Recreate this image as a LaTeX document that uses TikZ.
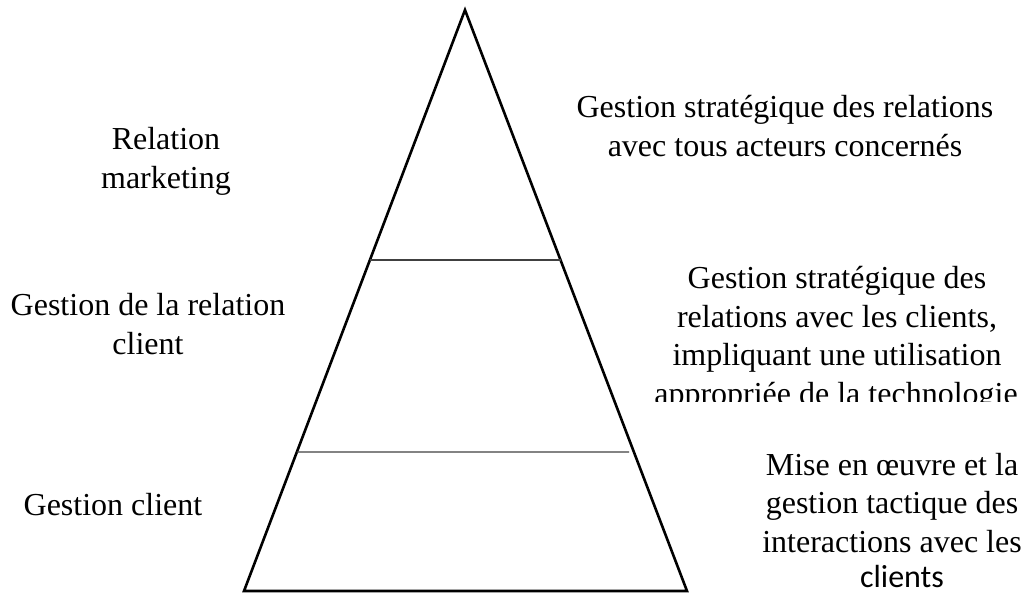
\documentclass[tikz,border=0pt]{standalone}
\usepackage{fontspec}
\setmainfont{Liberation Serif}
\newfontfamily\calibrifont{Carlito}
\usetikzlibrary{calc}
\begin{document}
\begin{tikzpicture}[x=1pt,y=-1pt,
  lbl/.style={anchor=base,inner sep=0pt,font=\fontsize{32}{38}\selectfont},
  pyr/.style={line width=2.6pt,line join=miter},
  tier/.style={line width=1.2pt,draw=black!75}]
\useasboundingbox (0,0) rectangle (1031,596);

% pyramid outline
\coordinate (apex) at (465,10);
\coordinate (bl) at (244,591);
\coordinate (br) at (687,591);
\draw[pyr] (apex) -- (br) -- (bl) -- cycle;

% tier separators
\coordinate (t1l) at ($(apex)!0.4303!(bl)$);
\coordinate (t1r) at ($(apex)!0.4303!(br)$);
\coordinate (t2l) at ($(apex)!0.7608!(bl)$);
\coordinate (t2r) at (629,452);
\draw[tier] (t1l) -- (t1r);
\draw[tier] (t2l) -- (t2r);

% left labels
\node[lbl] (rm1) at (166,150) {Relation};
\node[lbl] (rm2) at (166,189) {marketing};
\node[lbl] (grc1) at (148,315) {Gestion de la relation};
\node[lbl] (grc2) at (148,354) {client};
\node[lbl] (gc) at (113,515) {Gestion client};

% right labels, top tier
\node[lbl] (top1) at (785,118) {Gestion stratégique des relations};
\node[lbl] (top2) at (785,157) {avec tous acteurs concernés};

% right labels, middle tier
\node[lbl] (mid1) at (837,288) {Gestion stratégique des};
\node[lbl] (mid2) at (837,327) {relations avec les clients,};
\node[lbl] (mid3) at (837,365) {impliquant une utilisation};
\begin{scope}
  \clip (600,370) rectangle (1031,401);
  \node[lbl] (mid4) at (836,404) {appropriée de la technologie};
\end{scope}

% right labels, bottom tier
\node[lbl] (bot1) at (892,475) {Mise en œuvre et la};
\node[lbl] (bot2) at (892,513) {gestion tactique des};
\node[lbl] (bot3) at (892,552) {interactions avec les};
\node[lbl,font=\fontsize{32}{38}\calibrifont] (bot4) at (902,587) {clients};
\end{tikzpicture}
\end{document}
